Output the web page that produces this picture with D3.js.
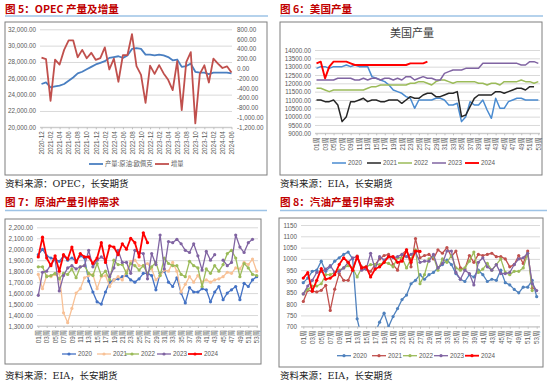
<!DOCTYPE html>
<html lang="zh">
<head>
<meta charset="UTF-8">
<title>原油产量</title>
<script src="https://d3js.org/d3.v7.min.js"></script>
<style>
    body { margin: 0; background: #fff; }
    svg { display: block; }
    .ttl { font: bold 10.6px "Noto Sans CJK SC", sans-serif; fill: #c00000; }
    .src { font: 9.5px "DejaVu Serif", "Noto Sans CJK SC", serif; fill: #222; }
    .axis text { font: 6.3px "Liberation Sans", "Noto Sans CJK SC", sans-serif; fill: #595959; }
    .leg { font: 6.3px "Liberation Sans", "Noto Sans CJK SC", sans-serif; fill: #595959; }
</style>
</head>
<body>
<script>
// ---- 图5 OPEC ----
const opecMonths = ["2020-12","2021-01","2021-02","2021-03","2021-04","2021-05","2021-06","2021-07","2021-08","2021-09","2021-10","2021-11",
    "2021-12","2022-01","2022-02","2022-03","2022-04","2022-05","2022-06","2022-07","2022-08","2022-09","2022-10","2022-11",
    "2022-12","2023-01","2023-02","2023-03","2023-04","2023-05","2023-06","2023-07","2023-08","2023-09","2023-10","2023-11",
    "2023-12","2024-01","2024-02","2024-03","2024-04","2024-05","2024-06"];
const opecOutput = [25300,25500,24900,25000,25100,25300,25700,26100,26600,26800,27100,27400,27700,27900,28100,28500,28600,28700,28500,28800,
    29600,29700,29600,28900,28900,28800,28900,28800,28600,28200,28300,27400,27500,27800,26800,26700,26700,26500,26700,26700,26700,26700,26600];
const opecChange = [220,190,-660,180,80,380,575,575,230,380,210,320,175,210,430,-20,200,-270,275,275,
    700,50,-130,-700,60,-110,70,-100,-230,-440,150,-850,130,335,-1120,-110,65,-285,200,100,10,45,-80];

// ---- 周度类别 ----
const weeks = d3.range(1, 54).map(d => String(d).padStart(2, "0") + "周");
const years = ["2020", "2021", "2022", "2023", "2024"];

// ---- 图6 美国产量 ----
const us2020 = [12900,13000,13000,12900,13000,13000,13000,13100,13000,13100,13000,13000,13000,12400,12300,12200,12100,11900,11600,11500,
    11400,11200,11100,10500,11000,11000,11000,11000,11100,11100,11000,10700,10700,10800,9700,10000,10900,10700,10700,11000,
    10400,9900,11100,10500,10500,10900,11000,11100,11100,11000,11000,11000,11000];
const us2021 = [11000,11000,10900,10900,11000,10700,9700,10000,10900,10900,11000,11100,10900,11000,11000,10900,10900,11000,11000,11000,
    10800,11000,11200,11100,11100,11300,11400,11400,11200,11200,11300,11400,11400,11500,10000,10100,10600,11100,11300,11300,
    11300,11300,11500,11500,11400,11500,11600,11700,11700,11600,11800,11800];
const us2022 = [11700,11700,11600,11500,11600,11600,11600,11600,11600,11600,11600,11600,11700,11800,11800,11900,11900,11900,11900,11900,
    11900,11900,12000,12000,12100,12100,12000,11900,12100,12200,12200,12100,12000,12100,12100,12100,12100,12100,12000,12000,
    11900,12000,12000,11900,12100,12100,12100,12100,12200,12100,12100,12000,12100];
const us2023 = [12200,12200,12200,12200,12200,12300,12300,12300,12300,12200,12200,12300,12200,12300,12300,12200,12300,12300,12200,12300,
    12200,12400,12400,12200,12300,12400,12300,12300,12200,12200,12600,12700,12800,12800,12800,12900,12900,12900,12900,13200,
    13200,13200,13200,13200,13200,13200,13200,13200,13100,13100,13300,13300,13200];
const us2024 = [13200,13300,12300,13000,13300,13300,13300,13300,13200,13100,13100,13100,13100,13100,13100,13100,13100,13100,13100,13100,
    13100,13100,13200,13200,13200,13200,13300];

// ---- 图7 原油产量引伸需求 ----
const crude2020 = [1950,2000,1940,1920,1910,1890,1940,1900,1920,1890,1940,1920,1710,1610,1520,1500,1610,1700,1720,1730,
    1750,1760,1720,1700,1730,1780,1780,1760,1630,1780,1800,1700,1660,1740,1600,1510,1650,1610,1610,1640,
    1630,1520,1610,1660,1540,1600,1630,1660,1540,1690,1660,1720,1750];
const crude2021 = [1770,1640,1760,1750,1770,1780,1420,1330,1460,1600,1640,1740,1760,1770,1640,1750,1760,1660,1720,1750,
    1720,1800,1890,1900,1850,1850,1870,1820,1720,1760,1810,1800,1880,1800,1610,1680,1750,1700,1760,1700,
    1720,1700,1720,1730,1750,1790,1780,1830,1820,1880,1860,1910,1800];
const crude2022 = [1840,1840,1750,1760,1780,1730,1780,1770,1820,1740,1840,1850,1780,1760,1870,1760,1800,1720,1900,1860,
    1860,1780,1870,1850,1810,1850,1780,1840,1880,1760,1920,1870,1850,1850,1770,1750,1890,1850,1830,1660,
    1820,1780,1850,1800,1860,1960,1990,1920,1750,1870,1830,1770,1760];
const crude2023 = [1580,1790,1800,1860,1910,1620,1760,1830,1850,1820,1840,1850,1990,1840,1900,1930,1900,1750,1830,1990,
    1880,1880,1780,1990,1970,1960,1730,1960,1860,2130,1820,2070,2060,2090,2050,1990,1970,2050,1940,1810,
    1980,1900,1950,null,1900,1850,1880,2130,2020,1970,2060,2090];
const crude2024 = [1930,2110,1920,1850,1940,1800,1950,1910,2020,1880,1960,1930,1930,1870,1920,2060,1880,2030,2020,1950,
    2050,2000,2100,2060,1930,2150,2060];

// ---- 图8 汽油产量引申需求 ----
const gas2020 = [895,915,945,950,990,945,965,990,1005,1020,1030,1000,735,650,610,640,675,720,760,700,
    745,780,820,840,890,905,930,910,930,940,960,975,995,975,935,910,900,930,920,950,
    930,900,910,905,950,895,885,865,850,875,875,905,833];
const gas2021 = [812,861,857,854,861,883,772,866,935,905,905,950,1012,965,955,945,975,1000,1015,1020,
    975,950,1020,1040,965,1090,1005,1015,1020,1000,1040,1025,1050,1010,1035,960,955,1015,985,1020,
    1015,1020,1025,1010,1010,1000,965,975,1015,980,1035,870];
const gas2022 = [845,865,880,880,890,930,930,940,950,960,970,960,920,960,965,975,975,975,985,980,
    965,1005,1005,960,1000,1040,890,930,1000,1010,950,1000,985,1015,960,950,960,990,1030,940,
    955,980,950,975,1000,940,930,945,945,960,1025,860];
const gas2023 = [845,880,905,940,945,955,970,940,945,960,985,1005,1010,950,955,1025,955,1010,995,1010,
    1005,1010,1020,1010,1020,1030,985,990,990,1020,960,980,1035,1035,940,910,950,935,885,985,
    1005,965,950,975,935,935,940,975,1000,1005,1025,890,860];
const gas2024 = [915,939,857,905,957,910,915,930,975,1005,985,950,1010,960,965,920,955,965,985,1010,
    1010,985,990,1040,985,1035,1033];

const fmtLoc = d3.formatLocale({decimal: ".", thousands: ",", grouping: [3], currency: ["", ""], minus: "-"});

const svg = d3.select("body").append("svg")
    .attr("width", 550)
    .attr("height", 384);

// 面板：标题、蓝线、边框、来源
function panel(x, tY, ruleY, ruleX2, box, title, source, srcY) {
    svg.append("text").attr("class", "ttl").attr("x", x).attr("y", tY).text(title);
    svg.append("line").attr("x1", x).attr("x2", ruleX2).attr("y1", ruleY).attr("y2", ruleY)
        .attr("stroke", "#9dc3e6").attr("stroke-width", 1.5);
    svg.append("rect").attr("x", box[0]).attr("y", box[1])
        .attr("width", box[2] - box[0]).attr("height", box[3] - box[1])
        .attr("fill", "none").attr("stroke", "#7f7f7f").attr("stroke-width", 1);
    svg.append("text").attr("class", "src").attr("x", x).attr("y", srcY).text(source);
}

panel(5, 13, 16, 268, [5, 22, 267, 175], "图 5：OPEC 产量及增量", "资料来源：OPEC，长安期货", 187);
panel(280, 13, 16, 543, [280, 22, 542, 175], "图 6：美国产量", "资料来源：EIA，长安期货", 187);
panel(5, 206, 210.5, 267, [5, 219, 261, 364], "图 7：原油产量引伸需求", "资料来源：EIA，长安期货", 379);
panel(280, 206, 210.5, 547, [279, 218, 543, 367], "图 8：汽油产量引申需求", "资料来源：EIA，长安期货", 379);

function styleAxis(g) {
    g.select(".domain").remove();
    g.selectAll(".tick line").attr("stroke", "#d9d9d9");
}

// y 轴 + 网格
function yGrid(x, y, left, right, ticks, fmt) {
    const g = svg.append("g").attr("class", "axis")
        .attr("transform", `translate(${left},0)`)
        .call(d3.axisLeft(y).tickValues(ticks).tickSize(-(right - left)).tickPadding(4).tickFormat(fmt));
    styleAxis(g);
}

// 类别 x 轴（旋转标签）
function xAxis(x, yPos, left, right, labels) {
    svg.append("line").attr("x1", left).attr("x2", right).attr("y1", yPos).attr("y2", yPos)
        .attr("stroke", "#bfbfbf").attr("stroke-width", 0.8);
    const g = svg.append("g").attr("class", "axis")
        .attr("transform", `translate(0,${yPos})`)
        .call(d3.axisBottom(x).tickValues(labels).tickSize(2));
    g.select(".domain").remove();
    g.selectAll(".tick line").attr("stroke", "#bfbfbf");
    g.selectAll("text")
        .attr("transform", "rotate(-90)")
        .attr("text-anchor", "end")
        .attr("x", -4)
        .attr("y", 0)
        .attr("dy", "0.35em");
}

function drawLine(x, y, cats, vals, color, width, marker, clipId) {
    const pts = vals.map((v, i) => [cats[i], v]);
    const line = d3.line()
        .defined(d => d[1] !== null)
        .x(d => x(d[0]))
        .y(d => y(d[1]));
    const g = svg.append("g");
    if (clipId) g.attr("clip-path", `url(#${clipId})`);
    g.append("path").datum(pts)
        .attr("fill", "none").attr("stroke", color).attr("stroke-width", width)
        .attr("stroke-linejoin", "round")
        .attr("d", line);
    if (marker) {
        g.selectAll("circle").data(pts.filter(d => d[1] !== null)).enter().append("circle")
            .attr("cx", d => x(d[0])).attr("cy", d => y(d[1]))
            .attr("r", 1.6).attr("fill", color);
    }
}

function legend(items, yPos, marker) {
    items.forEach(it => {
        svg.append("line").attr("x1", it.x).attr("x2", it.x + 14).attr("y1", yPos).attr("y2", yPos)
            .attr("stroke", it.color).attr("stroke-width", it.w || 1.5);
        if (marker) {
            svg.append("circle").attr("cx", it.x + 7).attr("cy", yPos).attr("r", 1.6).attr("fill", it.color);
        }
        svg.append("text").attr("class", "leg").attr("x", it.x + 16).attr("y", yPos).attr("dy", "0.35em").text(it.name);
    });
}

// ================= 图5 =================
{
    const left = 40, right = 232, top = 29.3, bottom = 127.3;
    const x = d3.scalePoint().domain(opecMonths).range([41.5, 231.5]);
    const yL = d3.scaleLinear().domain([20000, 32000]).range([bottom, top]);
    const yR = d3.scaleLinear().domain([-1200, 800]).range([bottom, top]);
    yGrid(x, yL, left, right, d3.range(20000, 32001, 2000), fmtLoc.format(",.2f"));
    const gr = svg.append("g").attr("class", "axis")
        .attr("transform", `translate(${right},0)`)
        .call(d3.axisRight(yR).tickValues(d3.range(-1200, 801, 200)).tickSize(0).tickPadding(5)
            .tickFormat(fmtLoc.format(",.2f")));
    gr.select(".domain").remove();
    xAxis(x, bottom, left, right, opecMonths.filter((d, i) => i % 2 === 0));
    drawLine(x, yL, opecMonths, opecOutput, "#4a7fc1", 1.8, false);
    drawLine(x, yR, opecMonths, opecChange, "#c0504d", 1.8, false);
    legend([
        {x: 89, color: "#4a7fc1", name: "产量:原油:欧佩克", w: 1.8},
        {x: 155, color: "#c0504d", name: "增量", w: 1.8}
    ], 164, false);
}

// ================= 图6 =================
{
    const left = 315, right = 540, top = 50, bottom = 133.3;
    const x = d3.scalePoint().domain(weeks).range([316.5, 538.3]);
    const y = d3.scaleLinear().domain([9000, 14000]).range([bottom, top]);
    svg.append("text").attr("x", 412).attr("y", 37)
        .attr("text-anchor", "middle")
        .style("font", "11px 'DejaVu Serif', 'Noto Sans CJK SC', serif").style("fill", "#404040")
        .text("美国产量");
    yGrid(x, y, left, right, d3.range(9000, 14001, 500), fmtLoc.format(".2f"));
    xAxis(x, bottom, left, right, weeks.filter((d, i) => i % 2 === 0));
    const cols = ["#4a8bd0", "#262626", "#9bbb59", "#8064a2", "#ff0000"];
    [us2020, us2021, us2022, us2023, us2024].forEach((s, i) =>
        drawLine(x, y, weeks, s, cols[i], i === 4 ? 1.9 : 1.5, false));
    legend(years.map((n, i) => ({x: [332, 367, 398, 432, 465][i], color: cols[i], name: n, w: i === 4 ? 1.9 : 1.5})), 163, false);
}

// ================= 图7 =================
{
    const left = 37, right = 258, top = 227.3, bottom = 326;
    const x = d3.scalePoint().domain(weeks).range([38.3, 256.7]);
    const y = d3.scaleLinear().domain([1300, 2200]).range([bottom, top]);
    yGrid(x, y, left, right, d3.range(1300, 2201, 100), fmtLoc.format(",.2f"));
    xAxis(x, bottom, left, right, weeks.filter((d, i) => i % 2 === 0));
    const cols = ["#4472c4", "#f8c196", "#9bbb59", "#8064a2", "#ff0000"];
    [crude2020, crude2021, crude2022, crude2023, crude2024].forEach((s, i) =>
        drawLine(x, y, weeks, s, cols[i], i === 4 ? 1.8 : 1.3, true));
    legend(years.map((n, i) => ({x: [62, 97, 125, 157, 188][i], color: cols[i], name: n, w: i === 4 ? 1.8 : 1.3})), 354, true);
}

// ================= 图8 =================
{
    const left = 301, right = 540, top = 225, bottom = 326.7;
    const x = d3.scalePoint().domain(weeks).range([303.3, 536.7]);
    const y = d3.scaleLinear().domain([700, 1150]).range([bottom, top]);
    svg.append("clipPath").attr("id", "clip8").append("rect")
        .attr("x", left - 3).attr("y", top - 3).attr("width", right - left + 6).attr("height", bottom - top + 3);
    yGrid(x, y, left, right, d3.range(700, 1151, 50), d3.format("d"));
    xAxis(x, bottom, left, right, weeks.filter((d, i) => i % 2 === 0));
    const cols = ["#4f81bd", "#c0504d", "#9bbb59", "#8064a2", "#ff0000"];
    [gas2020, gas2021, gas2022, gas2023, gas2024].forEach((s, i) =>
        drawLine(x, y, weeks, s, cols[i], i === 4 ? 1.8 : 1.3, true, "clip8"));
    legend(years.map((n, i) => ({x: [337, 372, 403, 434, 465][i], color: cols[i], name: n, w: i === 4 ? 1.8 : 1.3})), 355.7, true);
}
</script>
</body>
</html>
